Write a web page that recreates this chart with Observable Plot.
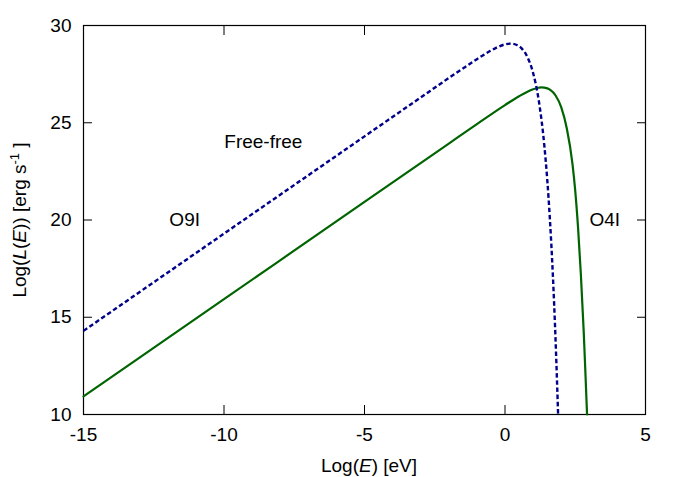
<!DOCTYPE html>
<html><head><meta charset="utf-8">
<script src="https://cdn.jsdelivr.net/npm/d3@7"></script>
<script src="https://cdn.jsdelivr.net/npm/@observablehq/plot@0.6"></script>
<style>
body{margin:0;background:#fff}
svg{font-family:"Liberation Sans",Arial,sans-serif}
</style>
</head><body><div id="chart"></div><script>
// O9I (dashed blue)
const o9iLogE = [-15, -10, -5, -3, -2, -1.5, -1, -0.5, -0.25, 0, 0.2, 0.4, 0.6, 0.8, 1.0, 1.2, 1.4, 1.5, 1.6, 1.7, 1.8, 1.85, 1.89];
const o9iLogL = [14.3, 19.3, 24.3, 26.3, 27.3, 27.79, 28.27, 28.71, 28.9, 29.03, 29.07, 29.01, 28.81, 28.37, 27.56, 26.16, 23.82, 22.14, 19.99, 17.27, 13.81, 11.75, 10.0];
// O4I (solid green)
const o4iLogE = [-15, -10, -5, -2, -1, 0, 0.5, 0.8, 1.0, 1.2, 1.3, 1.4, 1.6, 1.8, 2.0, 2.2, 2.4, 2.5, 2.6, 2.7, 2.8, 2.86, 2.92];
const o4iLogL = [10.93, 15.93, 20.93, 23.93, 24.93, 25.91, 26.36, 26.6, 26.72, 26.8, 26.82, 26.81, 26.7, 26.4, 25.8, 24.7, 22.9, 21.5, 19.6, 17.2, 14.3, 12.2, 10.0];
const xTicks = [-15, -10, -5, 0, 5];
const yTicks = [10, 15, 20, 25, 30];
const annLabels = ["Free-free", "O9I", "O4I"];
const annX = [-8.6, -11.4, 3.55];
const annY = [24.0, 20.0, 20.0];

const o9i = o9iLogE.map((x, i) => ({x, y: o9iLogL[i]}));
const o4i = o4iLogE.map((x, i) => ({x, y: o4iLogL[i]}));
const ann = annLabels.map((t, i) => ({t, x: annX[i], y: annY[i]}));
const fmt = d => `${d}`;

const plot = Plot.plot({
  width: 679, height: 477,
  marginLeft: 83, marginRight: 34, marginTop: 25, marginBottom: 63,
  style: {fontSize: "19px", fontFamily: '"Liberation Sans", Arial, sans-serif', background: "#fff", color: "#000"},
  x: {domain: [-15, 5]},
  y: {domain: [10, 30]},
  marks: [
    Plot.frame({stroke: "#000", strokeWidth: 1.2}),
    Plot.axisX({anchor: "bottom", ticks: xTicks, tickSize: -9, tickPadding: 22, tickFormat: fmt, label: null}),
    Plot.axisX({anchor: "top", ticks: xTicks, tickSize: -9, tickFormat: () => "", label: null}),
    Plot.axisY({anchor: "left", ticks: yTicks, tickSize: -9, tickPadding: 21, tickFormat: fmt, label: null}),
    Plot.axisY({anchor: "right", ticks: yTicks, tickSize: -9, tickFormat: () => "", label: null}),
    Plot.line(o4i, {x: "x", y: "y", stroke: "#006400", strokeWidth: 2.2, curve: "monotone-x"}),
    Plot.line(o9i, {x: "x", y: "y", stroke: "#00008b", strokeWidth: 2.4, strokeDasharray: "4.5,2.7", strokeLinecap: "butt", curve: "monotone-x"}),
    Plot.text(ann, {x: "x", y: "y", text: "t", fontSize: 19, fill: "#000", textAnchor: "middle"})
  ]
});

const svg = d3.select(plot);
const xl = svg.append("text").attr("x", 369).attr("y", 471.5).attr("text-anchor", "middle").attr("font-size", 19).attr("fill", "#000");
xl.append("tspan").text("Log(");
xl.append("tspan").attr("font-style", "italic").text("E");
xl.append("tspan").text(") [eV]");

const yl = svg.append("text").attr("transform", "rotate(-90)").attr("x", -220).attr("y", 26).attr("text-anchor", "middle").attr("font-size", 19).attr("fill", "#000");
yl.append("tspan").text("Log(");
yl.append("tspan").attr("font-style", "italic").text("L");
yl.append("tspan").text("(");
yl.append("tspan").attr("font-style", "italic").text("E");
yl.append("tspan").text(")) [erg s");
yl.append("tspan").attr("font-size", 13).attr("dy", -7).text("-1");
yl.append("tspan").attr("dy", 7).text(" ]");

document.getElementById("chart").appendChild(plot);
</script></body></html>
